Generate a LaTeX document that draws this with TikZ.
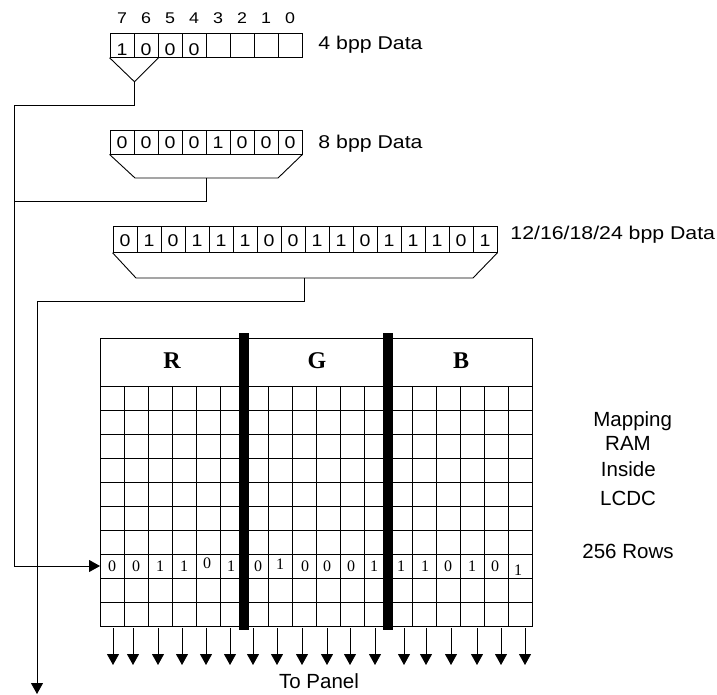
\documentclass[tikz,border=0pt]{standalone}
\usepackage{fontspec}
\setmainfont{Liberation Sans}
\newfontfamily\widesans{Liberation Sans}[FakeStretch=1.15]
\newfontfamily\ramserif{Liberation Serif}
\usetikzlibrary{arrows.meta,calc}

\begin{document}
\begin{tikzpicture}[x=1pt,y=-1pt,line width=0.9pt,
  bitbox/.style={draw,minimum width=24pt,minimum height=24pt,inner sep=0pt,
    font=\widesans\fontsize{17}{18}\selectfont,text height=#1,text depth=0pt},
  bitbox/.default=12pt,
  bitnum/.style={inner sep=0pt,anchor=base,font=\widesans\fontsize{15.5}{17}\selectfont},
  datatag/.style={inner sep=0pt,anchor=base west,font=\widesans\fontsize{18.5}{20}\selectfont},
  sidetext/.style={inner sep=0pt,anchor=base,font=\fontsize{20.5}{22}\selectfont},
  chan/.style={inner sep=0pt,font=\ramserif\bfseries\fontsize{24}{26}\selectfont},
  bitval/.style={inner sep=0pt,font=\ramserif\fontsize{16}{18}\selectfont},
  feed/.style={-{Triangle[length=11pt,width=12pt]}},
  panelarrow/.style={-{Triangle[length=11pt,width=12pt]}}]
  \useasboundingbox (0,0) rectangle (717,695);

  % 4 bpp word
  \foreach \d [count=\i] in {1,0,0,0,{},{},{},{}}
    \node[bitbox=21pt] (a\i) at ({98+24*\i},45.3) {\d};
  \foreach \n [count=\i] in {7,6,5,4,3,2,1,0}
    \node[bitnum] (n\n) at ({98+24*\i},24) {\n};
  \node[datatag] (tag4) at (318,49.3) {4 bpp Data};
  \coordinate (apex4) at ($(a1.south east)+(0,24)$);
  \draw (a1.south west) -- (apex4) -- (a2.south east);

  % 8 bpp word
  \foreach \d [count=\i] in {0,0,0,0,1,0,0,0}
    \node[bitbox=12.6pt] (b\i) at ({98+24*\i},142) {\d};
  \node[datatag] (tag8) at (318,148.4) {8 bpp Data};
  \coordinate (base8) at (206,178);
  \draw (b1.south west) -- (135,178) -- (278,178) -- (b8.south east);

  % 12/16/18/24 bpp word
  \foreach \d [count=\i] in {0,1,0,1,1,1,0,0,1,1,0,1,1,1,0,1}
    \node[bitbox=14.4pt,minimum height=25.6pt] (c\i) at ({101+24*\i},239.5) {\d};
  \node[datatag] (tag24) at (510,239.3) {12/16/18/24 bpp Data};
  \coordinate (base24) at (304,278);
  \draw (c1.south west) -- (136,278) -- (473,278) -- (c16.south east);

  % feed lines
  \coordinate (busA) at (14,105);
  \coordinate (busB) at (14,201);
  \coordinate (rowin) at (100,566);
  \coordinate (down) at (37,694);
  \draw[feed] (apex4) |- (busA) |- (rowin);
  \draw (base8) |- (busB);
  \draw[feed] (base24) -- ++(0,23) -| (down);

  % mapping RAM
  \draw[line width=1pt] (100,338) rectangle (532,626);
  \foreach \r in {0,...,9}
    \draw[line width=1pt] (100,{386+24*\r}) -- (532,{386+24*\r});
  \foreach \c in {1,...,17}
    \draw[line width=1pt] ({100+24*\c},386) -- ({100+24*\c},626);
  \foreach \x in {244,388}
    \fill ({\x-5},333) rectangle ({\x+5},630);
  \node[chan] (R) at (172,361) {R};
  \node[chan] (G) at (317,361) {G};
  \node[chan] (B) at (461,361) {B};
  \foreach \x/\d/\dy [count=\i] in {112/0/0,136/0/0,160/1/0,184/1/0,207/0/-3,231/1/0,
      258/0/0,280/1/-2,305/0/0,327/0/0,351/0/0,374/1/0,
      401/1/0,425/1/0,448/0/0,472/1/0,495/0/0,518/1/4}
    \node[bitval] (v\i) at (\x,{566+\dy}) {\d};

  % to panel
  \foreach \x [count=\i] in {113,133,158,182,206,230,253,277,302,327,350,375,404,426,451,477,501,525} {
    \coordinate (p\i) at (\x,628);
    \coordinate (q\i) at (\x,665);
    \draw[panelarrow] (p\i) -- (q\i);
  }
  \node[sidetext] (panel) at (319,688.3) {To Panel};

  % side notes
  \node[sidetext] (map) at (632.7,426) {Mapping};
  \node[sidetext] (ram) at (628,450.7) {RAM};
  \node[sidetext] (inside) at (628.3,476.7) {Inside};
  \node[sidetext] (lcdc) at (628,505) {LCDC};
  \node[sidetext] (rows) at (628,558.3) {256 Rows};
\end{tikzpicture}
\end{document}
